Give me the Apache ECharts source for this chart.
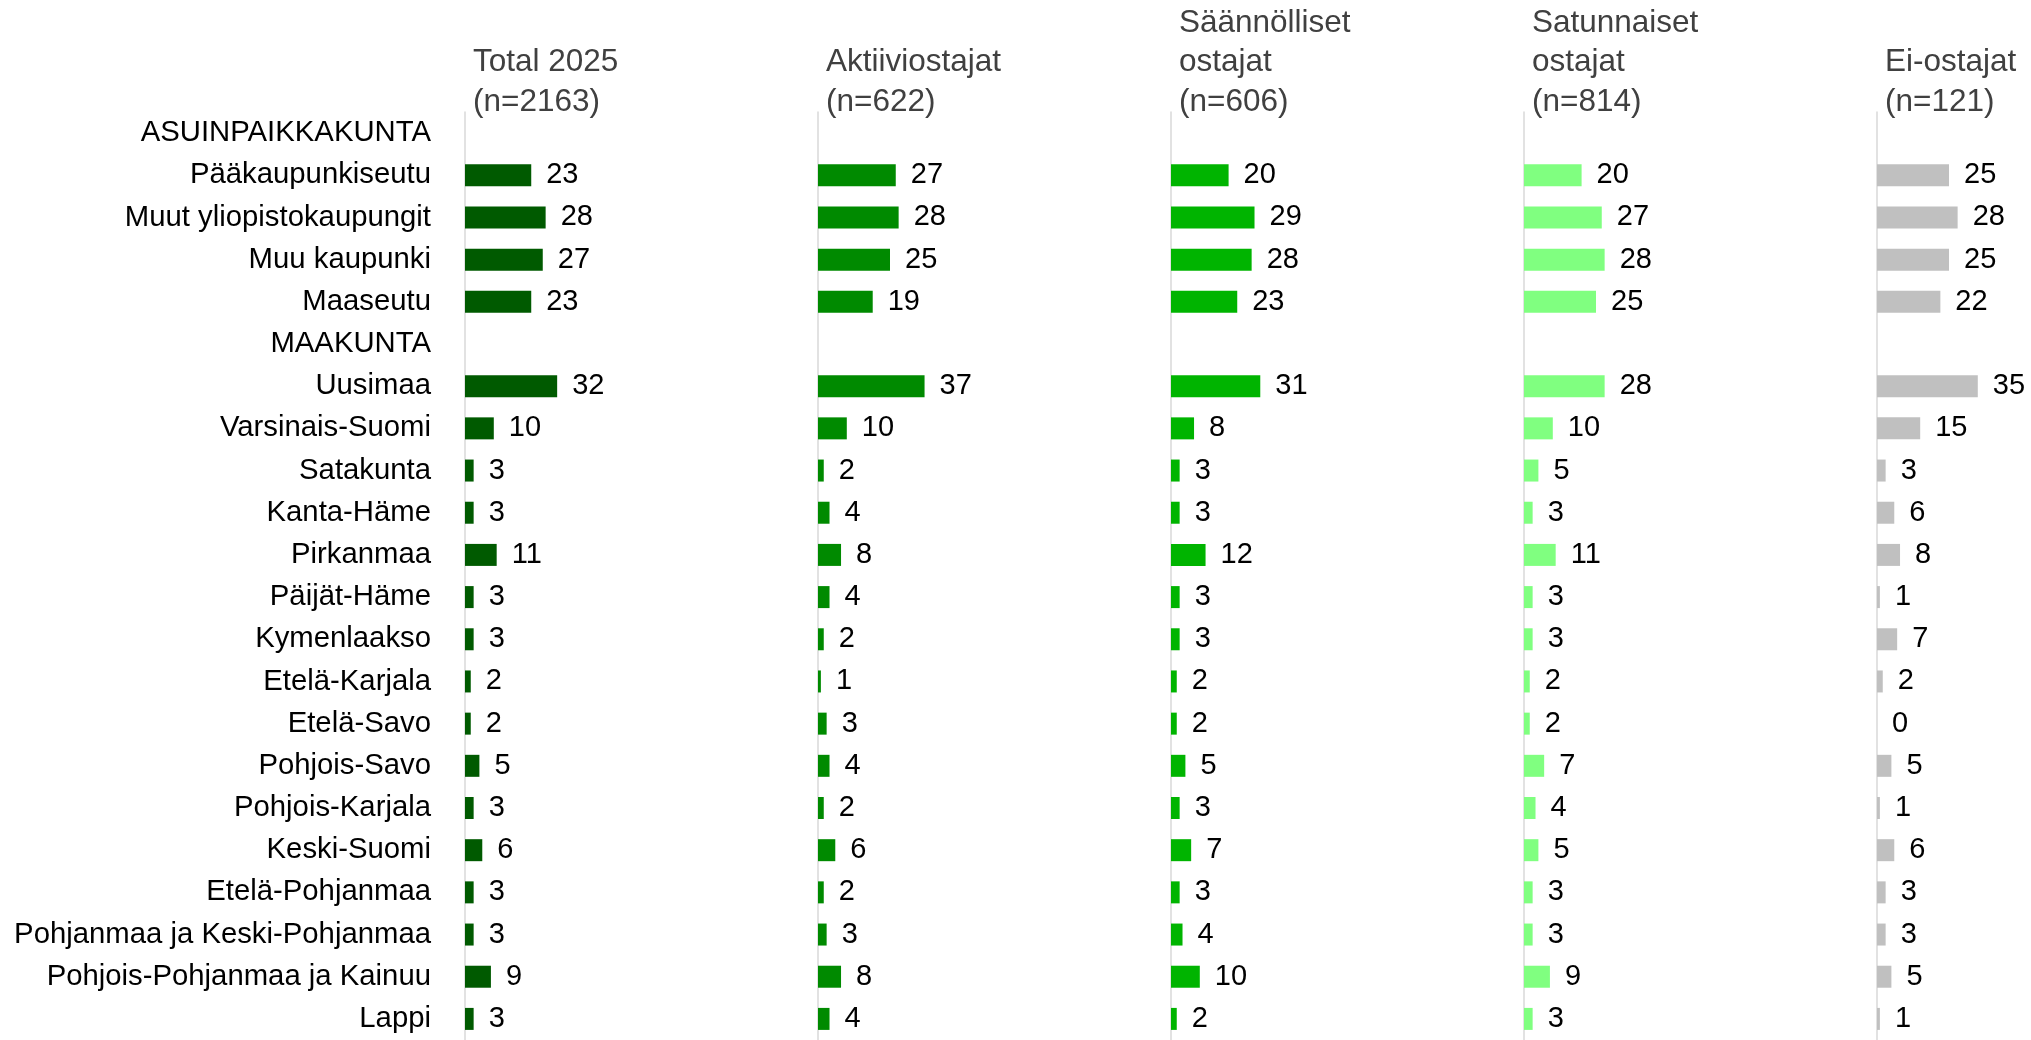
<!DOCTYPE html>
<html>
<head>
<meta charset="utf-8">
<script src="https://cdn.jsdelivr.net/npm/echarts@6/dist/echarts.min.js"></script>
<style>
  html, body { margin: 0; padding: 0; background: #fff; }
  #chart { width: 2031px; height: 1040px; }
</style>
</head>
<body>
<div id="chart"></div>
<script>
var categories = ['ASUINPAIKKAKUNTA', 'Pääkaupunkiseutu', 'Muut yliopistokaupungit', 'Muu kaupunki', 'Maaseutu',
  'MAAKUNTA', 'Uusimaa', 'Varsinais-Suomi', 'Satakunta', 'Kanta-Häme', 'Pirkanmaa', 'Päijät-Häme',
  'Kymenlaakso', 'Etelä-Karjala', 'Etelä-Savo', 'Pohjois-Savo', 'Pohjois-Karjala', 'Keski-Suomi',
  'Etelä-Pohjanmaa', 'Pohjanmaa ja Keski-Pohjanmaa', 'Pohjois-Pohjanmaa ja Kainuu', 'Lappi'];

var groupNames = ['Total 2025\n(n=2163)', 'Aktiiviostajat\n(n=622)', 'Säännölliset\nostajat\n(n=606)',
  'Satunnaiset\nostajat\n(n=814)', 'Ei-ostajat\n(n=121)'];

var total2025 = [null, 23, 28, 27, 23, null, 32, 10, 3, 3, 11, 3, 3, 2, 2, 5, 3, 6, 3, 3, 9, 3];
var aktiivi = [null, 27, 28, 25, 19, null, 37, 10, 2, 4, 8, 4, 2, 1, 3, 4, 2, 6, 2, 3, 8, 4];
var saannolliset = [null, 20, 29, 28, 23, null, 31, 8, 3, 3, 12, 3, 3, 2, 2, 5, 3, 7, 3, 4, 10, 2];
var satunnaiset = [null, 20, 27, 28, 25, null, 28, 10, 5, 3, 11, 3, 3, 2, 2, 7, 4, 5, 3, 3, 9, 3];
var eiOstajat = [null, 25, 28, 25, 22, null, 35, 15, 3, 6, 8, 1, 7, 2, 0, 5, 1, 6, 3, 3, 5, 1];

var groupData = [total2025, aktiivi, saannolliset, satunnaiset, eiOstajat];
var colors = ['#005a00', '#008a00', '#00b400', '#80ff80', '#c0c0c0'];

var font = 'Arial, "Liberation Sans", sans-serif';
var gridLeft0 = 465;
var gridStep = 353;
var lineH = 39.5;

var chart = echarts.init(document.getElementById('chart'));

var grids = [], xAxes = [], yAxes = [], series = [], titles = [];
for (var i = 0; i < 5; i++) {
  var left = gridLeft0 + gridStep * i;
  grids.push({ left: left, top: 112, width: 144, height: 933 });
  xAxes.push({
    gridIndex: i, type: 'value', min: 0, max: 50,
    show: false
  });
  yAxes.push({
    gridIndex: i, type: 'category', inverse: true, data: categories,
    axisLine: { show: true, lineStyle: { color: '#d9d9d9', width: 1.5 } },
    axisTick: { show: false },
    axisLabel: {
      show: i === 0, margin: 34, color: '#000',
      fontFamily: font, fontSize: 29.3
    }
  });
  series.push({
    type: 'bar', xAxisIndex: i, yAxisIndex: i,
    data: groupData[i], barWidth: 22,
    itemStyle: { color: colors[i] },
    label: {
      show: true, position: 'right', distance: 15,
      color: '#000', fontFamily: font, fontSize: 29,
      formatter: function (p) { return p.value == null ? '' : p.value; }
    },
    silent: true
  });
  var nLines = groupNames[i].split('\n').length;
  titles.push({
    text: groupNames[i], left: left + 8, top: 122 - lineH * nLines,
    padding: 0,
    textStyle: { color: '#404040', fontFamily: font, fontSize: 31.5, fontWeight: 'normal', lineHeight: lineH }
  });
}

var option = {
  animation: false,
  title: titles,
  grid: grids,
  xAxis: xAxes,
  yAxis: yAxes,
  series: series
};

option && chart.setOption(option);
</script>
</body>
</html>
